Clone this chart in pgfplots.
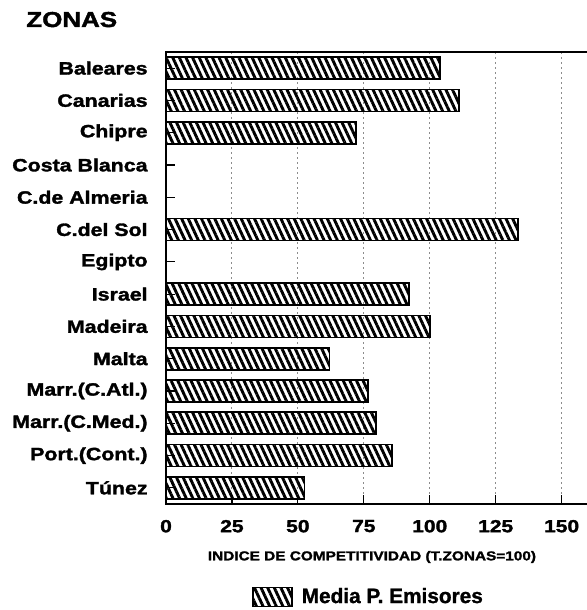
\documentclass[border=0pt]{standalone}
\usepackage{fontspec}
\setmainfont{Liberation Sans}[BoldFeatures={FakeBold=1.2}]
\newfontfamily\heavy{Liberation Sans}[FakeStretch=1.2, BoldFeatures={FakeBold=1.8}]
\usepackage{pgfplots}
\pgfplotsset{compat=1.18}
\usetikzlibrary{patterns.meta}
\begin{document}
\begin{tikzpicture}
\begin{axis}[
  at={(83pt,53pt)}, anchor=south west,
  scale only axis, width=211pt, height=226pt,
  xbar, bar width=11pt,
  xmin=0, xmax=160, ymin=-0.5, ymax=13.5,
  xtick={0,25,50,75,100,125,150}, ytick={0,...,13},
  yticklabels={T\'unez,Port.(Cont.),Marr.(C.Med.),Marr.(C.Atl.),Malta,Madeira,Israel,Egipto,C.del Sol,C.de Almeria,Costa Blanca,Chipre,Canarias,Baleares},
  tick align=inside, tick pos=left, major tick length=4.5pt,
  tick style={black, line width=0.6pt},
  xmajorgrids,
  major grid style={line width=0.5pt, black!45, dash pattern=on 1pt off 1.5pt},
  axis line style={line width=0.8pt},
  /pgf/number format/assume math mode=true,
  xticklabel style={font=\heavy\bfseries\fontsize{8.75}{10}\selectfont, inner sep=0pt, yshift=-7.8pt},
  yticklabel style={font=\heavy\bfseries\fontsize{8.9}{10}\selectfont, inner sep=0pt, xshift=-9pt},
  xlabel={INDICE DE COMPETITIVIDAD (T.ZONAS=100)},
  every axis x label/.style={at={(axis description cs:0.488,0)}, anchor=center, yshift=-26.5pt, inner sep=0pt, font=\heavy\bfseries\fontsize{6.4}{7}\selectfont},
  legend style={at={(0.4775,-0.2058)}, anchor=center, draw=none, fill=none, inner sep=0pt, column sep=4.5pt, nodes={inner sep=0pt}, font=\bfseries\fontsize{10.4}{12}\selectfont},
]
\addplot[draw=black, line width=0.9pt, pattern={Lines[angle=-65,distance=3pt,line width=1.45pt]},
  legend image code/.code={\draw[draw=black, line width=0.8pt, pattern={Lines[angle=-65,distance=3pt,line width=1.45pt]}] (0pt,-4.75pt) rectangle (19.5pt,4.75pt);}]
  coordinates {(104,13) (111,12) (72,11) (133.5,8) (92,6) (100,5) (62,4) (76.5,3) (79.5,2) (85.8,1) (52.5,0)};
\legend{Media P. Emisores}
\end{axis}
\node[anchor=base west, inner sep=0pt, font=\heavy\bfseries\fontsize{10.8}{12}\selectfont] at (13pt,291.5pt) {ZONAS};
\pgfresetboundingbox
\useasboundingbox (0,0) rectangle (293pt,305pt);
\end{tikzpicture}
\end{document}
